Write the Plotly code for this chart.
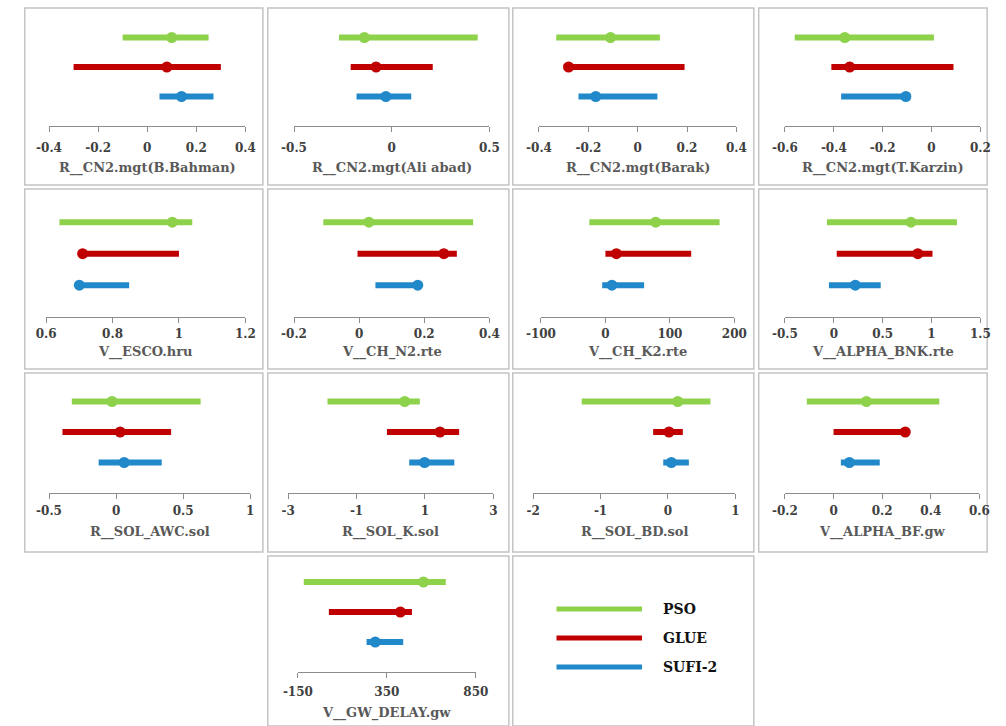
import plotly.graph_objects as go

# ---------------- data ----------------
params = ["R__CN2.mgt(B.Bahman)", "R__CN2.mgt(Ali abad)", "R__CN2.mgt(Barak)", "R__CN2.mgt(T.Karzin)",
          "V__ESCO.hru", "V__CH_N2.rte", "V__CH_K2.rte", "V__ALPHA_BNK.rte",
          "R__SOL_AWC.sol", "R__SOL_K.sol", "R__SOL_BD.sol", "V__ALPHA_BF.gw",
          "V__GW_DELAY.gw"]

methods = ["PSO", "GLUE", "SUFI-2"]

pso_min  = [-0.10, -0.27, -0.33, -0.56, 0.64, -0.11, -25, -0.07, -0.33, -1.85, -1.28, -0.11, -117]
pso_max  = [0.25, 0.44, 0.09, 0.01, 1.04, 0.35, 177, 1.26, 0.63, 0.85, 0.63, 0.435, 681]
pso_best = [0.10, -0.14, -0.11, -0.355, 0.98, 0.03, 78, 0.79, -0.03, 0.41, 0.145, 0.135, 556]

glue_min  = [-0.30, -0.21, -0.30, -0.41, 0.70, -0.005, 0, 0.03, -0.40, -0.11, -0.22, 0.0, 24]
glue_max  = [0.30, 0.21, 0.19, 0.09, 1.00, 0.30, 133, 1.01, 0.41, 2.0, 0.22, 0.30, 491]
glue_best = [0.08, -0.08, -0.28, -0.335, 0.71, 0.26, 17, 0.86, 0.03, 1.44, 0.015, 0.295, 426]

sufi_min  = [0.05, -0.18, -0.24, -0.37, 0.69, 0.05, -5, -0.05, -0.13, 0.54, -0.07, 0.03, 236]
sufi_max  = [0.27, 0.10, 0.08, -0.10, 0.85, 0.185, 60, 0.48, 0.34, 1.86, 0.31, 0.19, 442]
sufi_best = [0.14, -0.03, -0.17, -0.105, 0.70, 0.18, 10, 0.22, 0.06, 0.99, 0.05, 0.065, 285]

tick_vals = [
    [-0.4, -0.2, 0, 0.2, 0.4], [-0.5, 0, 0.5], [-0.4, -0.2, 0, 0.2, 0.4], [-0.6, -0.4, -0.2, 0, 0.2],
    [0.6, 0.8, 1, 1.2], [-0.2, 0, 0.2, 0.4], [-100, 0, 100, 200], [-0.5, 0, 0.5, 1, 1.5],
    [-0.5, 0, 0.5, 1], [-3, -1, 1, 3], [-2, -1, 0, 1], [-0.2, 0, 0.2, 0.4, 0.6],
    [-150, 350, 850],
]

# ---------------- layout geometry (pixels) ----------------
W, H = 1006, 726
colors = ["#8ED14B", "#C00000", "#2188C9"]

# axis extents in pixels: (x_first_tick, x_last_tick)
axis_px = [(35, 237), (287, 488), (539, 742), (792, 993),
           (32, 237), (287, 488), (541, 740), (792, 993),
           (35, 242), (281, 492), (533, 741), (792, 992),
           (291, 474)]
# rows: (axis line y, bar spacing, tick label standoff, title y)
rows = [(126, 29.5, 6, 168), (316.7, 31.5, 1, 352), (493, 30.5, 2, 532), (672, 30, 4, 713)]
panel_row = [0, 0, 0, 0, 1, 1, 1, 1, 2, 2, 2, 2, 3]

def px(x):
    return x / W

def py(y):
    return 1 - y / H

fig = go.Figure()
layout = dict(width=W, height=H, margin=dict(l=0, r=0, t=0, b=0),
              paper_bgcolor="white", plot_bgcolor="rgba(0,0,0,0)", showlegend=False)
annotations = []
shapes = []

font_fam = "DejaVu Serif"
series = [(pso_min, pso_max, pso_best), (glue_min, glue_max, glue_best), (sufi_min, sufi_max, sufi_best)]

for i, name in enumerate(params):
    k = i + 1
    xa = "x" if k == 1 else f"x{k}"
    ya = "y" if k == 1 else f"y{k}"
    axis_y, sp, standoff, title_y = rows[panel_row[i]]
    ticks = tick_vals[i]
    x0p, x1p = axis_px[i]
    ymax = 3.6
    for j, (mn, mx, bst) in enumerate(series):
        yv = 3 - j
        fig.add_trace(go.Scatter(x=[mn[i], mx[i]], y=[yv, yv], mode="lines",
                                 line=dict(color=colors[j], width=6),
                                 xaxis=xa, yaxis=ya, hoverinfo="skip"))
        fig.add_trace(go.Scatter(x=[bst[i]], y=[yv], mode="markers",
                                 marker=dict(color=colors[j], size=11),
                                 xaxis=xa, yaxis=ya, cliponaxis=False))
    layout["xaxis" if k == 1 else f"xaxis{k}"] = dict(
        domain=[px(x0p), px(x1p)], range=[ticks[0], ticks[-1]], anchor=ya,
        tickmode="array", tickvals=ticks, ticktext=[f"{t:g}" for t in ticks],
        showgrid=False, zeroline=False, showline=True, linecolor="#8c8c8c", linewidth=1,
        ticks="outside", ticklen=5, tickcolor="#8c8c8c", ticklabelstandoff=standoff,
        tickfont=dict(family=font_fam, size=12, color="#404040", weight="bold"),
        fixedrange=True)
    layout["yaxis" if k == 1 else f"yaxis{k}"] = dict(
        domain=[py(axis_y), py(axis_y - ymax * sp)], range=[0, ymax], anchor=xa,
        visible=False, fixedrange=True)
    annotations.append(dict(text=name, xref="paper", yref="paper",
                            x=px((x0p + x1p) / 2), y=py(title_y), showarrow=False,
                            xanchor="center", yanchor="middle",
                            font=dict(family=font_fam, size=13, color="#595959", weight="bold")))

# panel borders
cols = [(10, 255), (260, 508), (512, 760), (765, 1000)]
rws = [(8, 185), (189, 369), (373, 552), (556, 726)]
cells = [(c, r) for r in range(3) for c in range(4)] + [(1, 3), (2, 3)]
for c, r in cells:
    shapes.append(dict(type="rect", xref="paper", yref="paper",
                       x0=px(cols[c][0]), x1=px(cols[c][1]),
                       y0=py(rws[r][1]), y1=py(rws[r][0]),
                       line=dict(color="#c4c4c4", width=1.5), layer="below"))

# legend panel
leg_y = [609, 638, 667]
for j, m in enumerate(methods):
    shapes.append(dict(type="line", xref="paper", yref="paper",
                       x0=px(557), x1=px(645), y0=py(leg_y[j]), y1=py(leg_y[j]),
                       line=dict(color=colors[j], width=5)))
    annotations.append(dict(text=m, xref="paper", yref="paper", x=px(664), y=py(leg_y[j]),
                            showarrow=False, xanchor="left", yanchor="middle",
                            font=dict(family=font_fam, size=14, color="#111111", weight="bold")))

layout["annotations"] = annotations
layout["shapes"] = shapes
fig.update_layout(**layout)
fig.write_html("out.html")
